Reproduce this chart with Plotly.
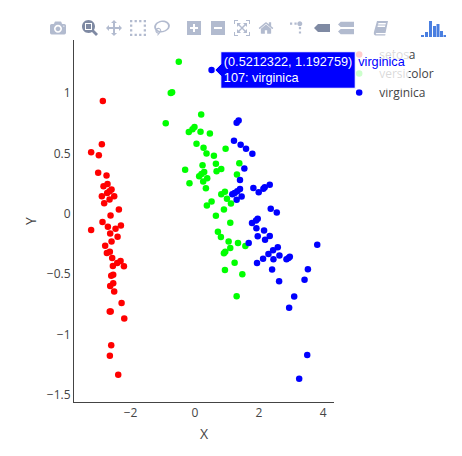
import plotly.graph_objects as go

# Values
setosa_x = [-2.865,-2.896,-3.229,-2.99,-3.01,-2.75,-2.844,-2.719,-2.594,-2.656,-2.729,-2.896,-2.511,-2.656,-2.823,-2.365,-2.625,-2.875,-2.302,-2.708,-3.229,-2.469,
            -2.636,-2.406,-2.594,-2.792,-2.646,-2.74,-2.573,-2.313,-2.417,-2.552,-2.208,-2.542,-2.604,-2.542,-2.636,-2.511,-2.281,-2.62,-2.65,-2.198,-2.604,-2.646,-2.386]
setosa_y = [0.936,0.576,0.510,0.485,0.341,0.317,0.228,0.248,0.201,0.187,0.173,0.146,0.146,0.118,0.088,0.036,-0.014,-0.069,-0.097,-0.108,-0.135,-0.124,
            -0.163,-0.191,-0.229,-0.265,-0.315,-0.326,-0.367,-0.392,-0.408,-0.433,-0.436,-0.505,-0.513,-0.576,-0.598,-0.645,-0.739,-0.81,-0.81,-0.868,-1.091,-1.177,-1.334]

versicolor_x = [-0.50,-0.708,-0.75,-0.906,0.198,-0.011,-0.073,-0.188,0.177,0.469,0.052,0.271,0.958,0.364,0.594,0.240,0.656,1.385,-0.302,0.823,0.677,0.291,0.208,0.135,0.385,1.312,0.260,-0.167,0.344,0.937,0.823,1.0,0.521,0.375,1.125,0.906,0.656,1.104,
                0.719,0.812,1.052,1.344,1.573,1.104,0.948,0.906,1.239,0.937,1.479,1.302]
versicolor_y = [1.262,1.008,1.003,0.752,0.824,0.719,0.702,0.678,0.680,0.667,0.581,0.548,0.540,0.501,0.482,0.402,0.416,0.419,0.366,0.372,0.352,0.347,0.330,0.311,0.295,0.325,0.267,0.253,0.212,0.182,0.162,0.124,0.102,0.069,0.085,0.036,-0.017,-0.075,
                -0.149,-0.193,-0.229,-0.243,-0.267,-0.284,-0.314,-0.328,-0.405,-0.466,-0.502,-0.683]

virginica_x = [0.5212322,1.364,1.302,1.219,1.427,1.594,1.792,1.542,1.406,1.823,1.989,2.135,2.177,2.333,1.406,1.323,1.239,1.167,1.458,1.302,2.364,2.552,1.958,1.906,1.781,
               1.917,2.156,2.333,1.958,2.187,1.677,3.812,2.583,2.437,2.292,2.635,2.125,2.448,2.958,2.917,2.854,1.937,2.406,3.521,3.417,2.625,3.094,2.937,3.50,3.25]
virginica_y = [1.192759,0.774,0.755,0.606,0.573,0.540,0.498,0.375,0.281,0.215,0.179,0.207,0.220,0.242,0.206,0.187,0.173,0.162,0.143,0.116,0.041,0.011,-0.041,-0.055,-0.077,
               -0.119,-0.138,-0.185,-0.187,-0.215,-0.243,-0.256,-0.278,-0.303,-0.333,-0.345,-0.372,-0.378,-0.356,-0.367,-0.378,-0.408,-0.463,-0.460,-0.548,-0.559,-0.686,-0.780,-1.171,-1.369]
virginica_text = ["107: virginica"] + [""] * (len(virginica_x) - 1)

template = "(%{x:.7f}, %{y:.6f})<br>%{text}<extra>virginica</extra>"

fig = go.Figure()
fig.add_trace(go.Scatter(x=setosa_x, y=setosa_y, mode="markers", name="setosa",
                         marker=dict(color="#FF0000", size=6.5)))
fig.add_trace(go.Scatter(x=versicolor_x, y=versicolor_y, mode="markers", name="versicolor",
                         marker=dict(color="#00FF00", size=6.5)))
fig.add_trace(go.Scatter(x=virginica_x, y=virginica_y, mode="markers", name="virginica",
                         text=virginica_text, hovertemplate=template,
                         hoverlabel=dict(font=dict(size=12.7)),
                         marker=dict(color="#0000FF", size=6.5)))

fig.update_layout(
    template="none",
    width=462, height=456,
    margin=dict(l=74, r=128, t=40, b=54),
    paper_bgcolor="white", plot_bgcolor="white",
    hovermode="closest",
    font=dict(color="#444444"),
    modebar=dict(color="rgba(0,31,95,0.3)", activecolor="rgba(0,22,72,0.5)"),
    legend=dict(x=1.02, y=1.0, xanchor="left", yanchor="top"),
    xaxis=dict(title=dict(text="X", font=dict(size=14), standoff=8), range=[-3.763, 4.334], dtick=2,
               showgrid=False, zeroline=False, showline=True, linecolor="#444444",
               linewidth=1, ticks="", automargin=False),
    yaxis=dict(title=dict(text="Y", font=dict(size=14)), range=[-1.561, 1.4416], dtick=0.5,
               showgrid=False, zeroline=False, showline=True, linecolor="#444444",
               linewidth=1, ticks="", automargin=False),
)

config = dict(
    displayModeBar=True,
    displaylogo=True,
    modeBarButtons=[["toImage"],
                    ["zoom2d", "pan2d", "select2d", "lasso2d"],
                    ["zoomIn2d", "zoomOut2d", "autoScale2d", "resetScale2d"],
                    ["toggleSpikelines", "hoverClosestCartesian", "hoverCompareCartesian"],
                    ["editInChartStudio"]],
)

post = """
document.body.style.margin = '0';
var gd = document.getElementById('{plot_id}');
var NS = 'http://www.w3.org/2000/svg';
var bar = gd.querySelector('.modebar');
bar.style.top = '17px';
bar.style.right = '12px';
var groups = gd.querySelectorAll('.modebar-group');
var logoGroup = groups[groups.length - 1];
var bookGroup = groups[groups.length - 2];
logoGroup.style.paddingLeft = '24px';
bookGroup.style.paddingLeft = '11px';
var book = gd.querySelector('.modebar-btn[data-title="Edit in Chart Studio"] svg');
if (book) {
  book.setAttribute('viewBox', '0 0 16 16');
  var bp = book.querySelector('path');
  bp.removeAttribute('transform');
  bp.setAttribute('fill-rule', 'evenodd');
  bp.setAttribute('d', 'M4 1H15L12.5 13H3.6C2.6 13 2.4 14.2 3.4 14.2H12.5L12.2 15.4H2.6C0.8 15.4 0.6 13.4 1 11.8Z M5.4 3L5.1 4.4H12.6L12.9 3Z M4.8 5.6L4.5 7H12L12.3 5.6Z');
}
var logoBtn = logoGroup.querySelector('svg');
if (logoBtn) {
  while (logoBtn.firstChild) logoBtn.removeChild(logoBtn.firstChild);
  logoBtn.setAttribute('viewBox', '0 0 25 17');
  logoBtn.setAttribute('width', '25');
  logoBtn.setAttribute('height', '17');
  [[0,2],[4,5],[8,16],[12,11],[15.5,13],[19,6],[22.5,2]].forEach(function(b){
    var r = document.createElementNS(NS, 'rect');
    r.setAttribute('x', b[0]); r.setAttribute('width', 3);
    r.setAttribute('y', 17 - b[1]); r.setAttribute('height', b[1]);
    r.setAttribute('fill', '#4a7fe0');
    logoBtn.appendChild(r);
  });
}
Plotly.Fx.hover(gd, [{curveNumber: 2, pointNumber: 0}]);
"""
fig.write_html("out.html", config=config, post_script=post)
